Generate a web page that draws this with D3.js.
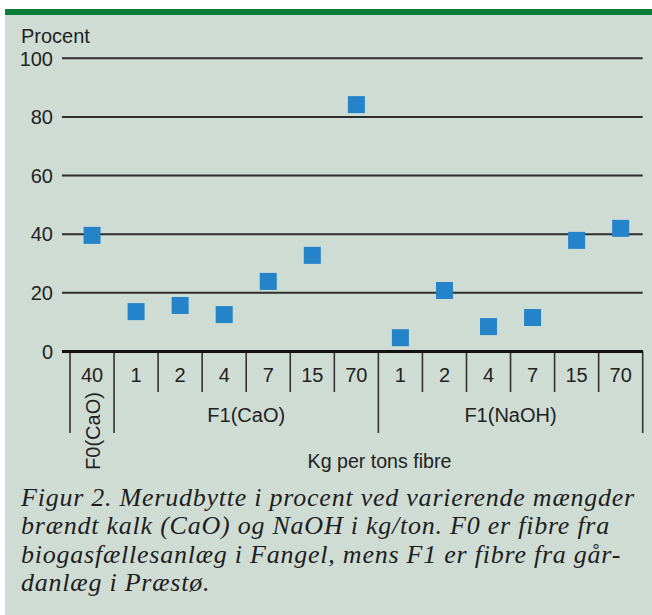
<!DOCTYPE html>
<html>
<head>
<meta charset="utf-8">
<title>Merudbytte</title>
<script src="https://cdn.jsdelivr.net/npm/d3@7"></script>
<style>
  body { margin: 0; background: #fff; }
  svg { display: block; }
</style>
</head>
<body>
<script>
// data
var tickLabels = ["40", "1", "2", "4", "7", "15", "70", "1", "2", "4", "7", "15", "70"];
var values = [39.6, 13.6, 15.7, 12.6, 23.9, 32.8, 84.2, 4.7, 20.8, 8.5, 11.6, 37.9, 42.0];
var groupNames = ["F0(CaO)", "F1(CaO)", "F1(NaOH)"];
var groupStart = [0, 1, 7];
var groupEnd = [1, 7, 13];
var yTicks = [0, 20, 40, 60, 80, 100];
var captionLines = [
  "Figur 2. Merudbytte i procent ved varierende mængder",
  "brændt kalk (CaO) og NaOH i kg/ton. F0 er fibre fra",
  "biogasfællesanlæg i Fangel, mens F1 er fibre fra går-",
  "danlæg i Præstø."
];

var width = 652, height = 615;
var sans = "Liberation Sans";
var serif = "Liberation Serif";

var svg = d3.select("body").append("svg")
  .attr("width", width)
  .attr("height", height);

// panel background + green top rule
svg.append("rect").attr("x", 5).attr("y", 9).attr("width", width - 5).attr("height", height - 9).attr("fill", "#cfdcd4");
svg.append("rect").attr("x", 5).attr("y", 9).attr("width", width - 5).attr("height", 6).attr("fill", "#0a7e3a");

var x = d3.scaleBand()
  .domain(d3.range(tickLabels.length))
  .range([70, 642.7]);

var y = d3.scaleLinear()
  .domain([0, 100])
  .range([351.5, 58.3]);

// gridlines
svg.append("g").selectAll("line")
  .data(yTicks.filter(function(d) { return d > 0; }))
  .enter().append("line")
  .attr("x1", 62).attr("x2", 642.7)
  .attr("y1", function(d) { return y(d); })
  .attr("y2", function(d) { return y(d); })
  .attr("stroke", "#2e2e2e")
  .attr("stroke-width", 2);

// y tick labels
svg.append("g").selectAll("text")
  .data(yTicks)
  .enter().append("text")
  .attr("x", 53)
  .attr("y", function(d) { return y(d); })
  .attr("dy", "0.36em")
  .attr("text-anchor", "end")
  .attr("font-family", sans)
  .attr("font-size", 20)
  .attr("fill", "#222")
  .text(function(d) { return d; });

svg.append("text")
  .attr("x", 21).attr("y", 42.5)
  .attr("font-family", sans)
  .attr("font-size", 20)
  .attr("fill", "#222")
  .text("Procent");

// category separators: long at group edges, short otherwise
var edges = d3.range(tickLabels.length + 1);
svg.append("g").selectAll("line")
  .data(edges)
  .enter().append("line")
  .attr("x1", function(i) { return i < tickLabels.length ? x(i) : x.range()[1]; })
  .attr("x2", function(i) { return i < tickLabels.length ? x(i) : x.range()[1]; })
  .attr("y1", y(0))
  .attr("y2", function(i) { return (groupStart.indexOf(i) >= 0 || i === tickLabels.length) ? 433 : 392; })
  .attr("stroke", "#333")
  .attr("stroke-width", 1.6);

// zero axis
svg.append("line")
  .attr("x1", 62).attr("x2", 643)
  .attr("y1", y(0)).attr("y2", y(0))
  .attr("stroke", "#111")
  .attr("stroke-width", 3);

// category tick labels
svg.append("g").selectAll("text")
  .data(tickLabels)
  .enter().append("text")
  .attr("x", function(d, i) { return x(i) + x.bandwidth() / 2; })
  .attr("y", 381.5)
  .attr("text-anchor", "middle")
  .attr("font-family", sans)
  .attr("font-size", 20)
  .attr("fill", "#222")
  .text(function(d) { return d; });

// group labels (first one is vertical)
groupNames.forEach(function(name, k) {
  var cx = (x(groupStart[k]) + (groupEnd[k] < tickLabels.length ? x(groupEnd[k]) : x.range()[1])) / 2;
  var t = svg.append("text")
    .attr("text-anchor", "middle")
    .attr("font-family", sans)
    .attr("font-size", 20)
    .attr("fill", "#222")
    .text(name);
  if (groupEnd[k] - groupStart[k] === 1) {
    t.attr("transform", "translate(" + (cx + 8) + ",431) rotate(-90)");
  } else {
    t.attr("x", cx).attr("y", 422);
  }
});

svg.append("text")
  .attr("x", 379.5).attr("y", 468)
  .attr("text-anchor", "middle")
  .attr("font-family", sans)
  .attr("font-size", 19.6)
  .attr("fill", "#222")
  .text("Kg per tons fibre");

// points
var s = 17;
svg.append("g").selectAll("rect")
  .data(values)
  .enter().append("rect")
  .attr("x", function(d, i) { return x(i) + x.bandwidth() / 2 - s / 2; })
  .attr("y", function(d) { return y(d) - s / 2; })
  .attr("width", s).attr("height", s)
  .attr("fill", "#2483c9");

// caption: fixed size, letter spacing stretched so line 1 spans the panel
var lines = svg.append("g").selectAll("text")
  .data(captionLines)
  .enter().append("text")
  .attr("x", 21)
  .attr("y", function(d, i) { return 506 + i * 28.3; })
  .attr("font-family", serif)
  .attr("font-style", "italic")
  .attr("font-size", 26)
  .attr("fill", "#1e1e1e")
  .text(function(d) { return d; });
var w = lines.node().getComputedTextLength();
var ls = Math.max(0, (614 - w) / captionLines[0].length);
lines.attr("letter-spacing", ls);
</script>
</body>
</html>
